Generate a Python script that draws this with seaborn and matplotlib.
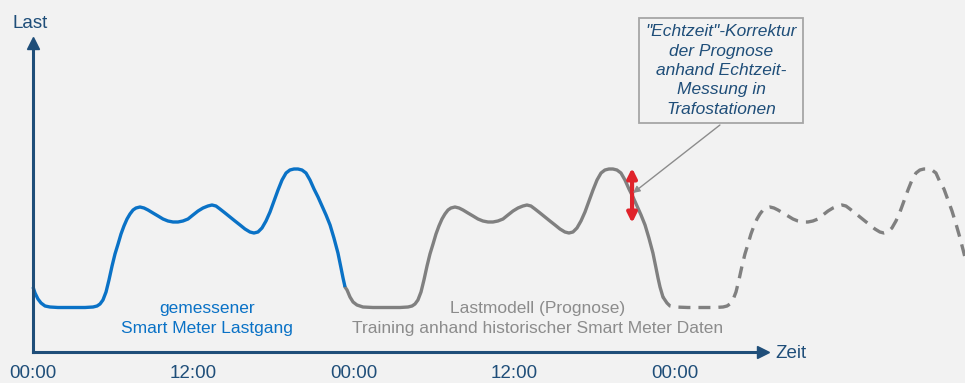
import matplotlib
matplotlib.use("Agg")
import matplotlib.pyplot as plt
import seaborn as sns
import pandas as pd

# ---- data: load profiles (hours since start, load in arbitrary units) ----
measured_hours = [0.00, 0.15, 0.37, 0.60, 0.90, 1.27, 1.87, 2.77, 3.89, 4.49,
                  4.79, 5.01, 5.23, 5.46, 5.68, 5.91, 6.13, 6.36, 6.58, 6.80,
                  7.03, 7.25, 7.48, 7.70, 8.00, 8.30, 8.60, 8.97, 9.35, 9.72,
                  10.09, 10.47, 10.84, 11.21, 11.59, 11.96, 12.34, 12.71, 13.08, 13.38,
                  13.68, 13.98, 14.36, 14.73, 15.10, 15.48, 15.85, 16.22, 16.52, 16.82,
                  17.12, 17.42, 17.72, 18.02, 18.32, 18.62, 18.92, 19.21, 19.51, 19.81,
                  20.11, 20.41, 20.71, 21.01, 21.31, 21.61, 21.91, 22.21, 22.50, 22.80,
                  23.03, 23.18, 23.33]
measured_load = [6.5, 5.9, 5.3, 4.9, 4.6, 4.5, 4.45, 4.45, 4.45, 4.5,
                 4.6, 4.8, 5.2, 6.0, 7.2, 8.6, 9.8, 10.8, 11.8, 12.6,
                 13.3, 13.8, 14.2, 14.4, 14.5, 14.4, 14.2, 13.9, 13.6, 13.3,
                 13.1, 13.0, 13.0, 13.1, 13.3, 13.7, 14.1, 14.4, 14.6, 14.7,
                 14.6, 14.3, 13.9, 13.5, 13.1, 12.7, 12.3, 12.0, 11.9, 12.0,
                 12.4, 13.1, 14.0, 15.1, 16.2, 17.2, 17.9, 18.2, 18.3, 18.3,
                 18.2, 17.9, 17.2, 16.3, 15.5, 14.6, 13.7, 12.7, 11.4, 9.9,
                 8.4, 7.4, 6.5]

model_hours = [23.33, 23.48, 23.70, 23.93, 24.22, 24.67, 25.42, 26.32, 27.44, 28.04,
               28.34, 28.56, 28.78, 29.01, 29.23, 29.46, 29.68, 29.91, 30.13, 30.35,
               30.58, 30.80, 31.03, 31.25, 31.55, 31.85, 32.15, 32.52, 32.90, 33.27,
               33.64, 34.02, 34.39, 34.76, 35.14, 35.51, 35.89, 36.26, 36.63, 36.93,
               37.23, 37.53, 37.91, 38.28, 38.65, 39.03, 39.40, 39.77, 40.07, 40.37,
               40.67, 40.97, 41.27, 41.57, 41.87, 42.17, 42.47, 42.76, 43.06, 43.36,
               43.66, 43.96, 44.26, 44.56, 44.86, 45.16, 45.46, 45.76, 46.05, 46.35,
               46.58, 46.73, 46.88, 47.10]
model_load = [6.5, 6.2, 5.5, 5.0, 4.7, 4.5, 4.45, 4.45, 4.45, 4.5,
              4.6, 4.8, 5.2, 6.0, 7.2, 8.6, 9.8, 10.8, 11.8, 12.6,
              13.3, 13.8, 14.2, 14.4, 14.5, 14.4, 14.2, 13.9, 13.6, 13.3,
              13.1, 13.0, 13.0, 13.1, 13.3, 13.7, 14.1, 14.4, 14.6, 14.7,
              14.6, 14.3, 13.9, 13.5, 13.1, 12.7, 12.3, 12.0, 11.9, 12.0,
              12.4, 13.1, 14.0, 15.1, 16.2, 17.2, 17.9, 18.2, 18.3, 18.3,
              18.2, 17.9, 17.2, 16.3, 15.5, 14.6, 13.7, 12.7, 11.4, 9.9,
              8.4, 7.4, 6.5, 5.5]

forecast_hours = [47.10, 47.40, 47.63, 48.00, 48.97, 49.87, 50.99, 51.59,
                  51.89, 52.11, 52.33, 52.56, 52.78, 53.01, 53.23, 53.46, 53.68, 53.90,
                  54.13, 54.35, 54.58, 54.80, 55.10, 55.40, 55.70, 56.07, 56.45, 56.82,
                  57.19, 57.57, 57.94, 58.31, 58.69, 59.06, 59.44, 59.81, 60.18, 60.48,
                  60.78, 61.08, 61.46, 61.83, 62.20, 62.58, 62.95, 63.32, 63.62, 63.92,
                  64.22, 64.52, 64.82, 65.12, 65.42, 65.72, 66.02, 66.31, 66.61, 66.91,
                  67.21, 67.51, 67.81, 68.11, 68.41, 68.71, 69.01, 69.31, 69.60, 69.90,
                  70.20]
forecast_load = [5.5, 4.9, 4.6, 4.5, 4.45, 4.45, 4.45, 4.5,
                 4.6, 4.8, 5.2, 6.0, 7.2, 8.6, 9.8, 10.8, 11.8, 12.6,
                 13.3, 13.8, 14.2, 14.4, 14.5, 14.4, 14.2, 13.9, 13.6, 13.3,
                 13.1, 13.0, 13.0, 13.1, 13.3, 13.7, 14.1, 14.4, 14.6, 14.7,
                 14.6, 14.3, 13.9, 13.5, 13.1, 12.7, 12.3, 12.0, 11.9, 12.0,
                 12.4, 13.1, 14.0, 15.1, 16.2, 17.2, 17.9, 18.2, 18.3, 18.3,
                 18.2, 17.9, 17.0, 16.3, 15.2, 14.1, 12.8, 11.4, 9.9, 8.3,
                 6.8]

tick_hours = [0, 12, 24, 36, 48]
tick_labels = ["00:00", "12:00", "00:00", "12:00", "00:00"]

# real-time correction at the transformer station
correction_hour = 44.79
correction_range = (12.9, 18.4)

# ---- style ----
BG = "#f2f2f2"
NAVY = "#1f4e79"
BLUE = "#0a72c6"
GREY = "#808080"
RED = "#e0232b"

sns.set_theme(style="white", rc={"figure.facecolor": BG, "axes.facecolor": BG})
plt.rcParams["font.family"] = ["Liberation Sans", "DejaVu Sans"]

fig = plt.figure(figsize=(9.65, 3.83), dpi=100)
ax = fig.add_axes([33 / 965, 31 / 383, 730 / 965, 309 / 383])
ax.set_xlim(0, 54.58)
ax.set_ylim(0, 30.9)

df_meas = pd.DataFrame({"h": measured_hours, "load": measured_load})
df_model = pd.DataFrame({"h": model_hours, "load": model_load})
df_fc = pd.DataFrame({"h": forecast_hours, "load": forecast_load})

lw = 2.4
sns.lineplot(data=df_model, x="h", y="load", ax=ax, color=GREY, lw=lw,
             sort=False, estimator=None, clip_on=False)
sns.lineplot(data=df_fc, x="h", y="load", ax=ax, color=GREY, lw=lw,
             sort=False, estimator=None, clip_on=False)
ax.lines[-1].set_dashes((3.6, 2.4))
sns.lineplot(data=df_meas, x="h", y="load", ax=ax, color=BLUE, lw=lw,
             sort=False, estimator=None, clip_on=False, solid_capstyle="butt")
for ln in ax.lines:
    ln.set_solid_joinstyle("round")

# axes with arrow heads
for side in ("top", "right"):
    ax.spines[side].set_visible(False)
for side in ("left", "bottom"):
    ax.spines[side].set_color(NAVY)
    ax.spines[side].set_linewidth(2.2)
    ax.spines[side].set_zorder(5)
ax.plot(1, 0, ">", color=NAVY, ms=8, transform=ax.transAxes, clip_on=False, zorder=6)
ax.plot(0, 1, "^", color=NAVY, ms=8, transform=ax.transAxes, clip_on=False, zorder=6)

ax.set_xticks(tick_hours)
ax.set_xticklabels(tick_labels, fontsize=13.5, color=NAVY)
ax.tick_params(axis="x", length=0, pad=9.5)
ax.set_yticks([])
ax.set_xlabel("")
ax.set_ylabel("")

ax.text(-0.22, 32.8, "Last", ha="center", va="center", fontsize=13.5, color=NAVY, clip_on=False)
ax.text(55.48, -0.1, "Zeit", ha="left", va="center", fontsize=13.5, color=NAVY, clip_on=False)

# series captions
ax.text(13.0, 3.35, "gemessener\nSmart Meter Lastgang", ha="center", va="center",
        fontsize=12.5, color=BLUE, linespacing=1.44)
ax.text(37.76, 3.35, "Lastmodell (Prognose)\nTraining anhand historischer Smart Meter Daten",
        ha="center", va="center", fontsize=12.5, color="#8c8c8c", linespacing=1.44)

# correction arrow
ax.annotate("", xy=(correction_hour, correction_range[1]),
            xytext=(correction_hour, correction_range[0]),
            arrowprops=dict(arrowstyle="<|-|>", color=RED, lw=3,
                            mutation_scale=14, shrinkA=0, shrinkB=0), zorder=7)

# callout box
ax.text(51.44, 28.15,
        "\"Echtzeit\"-Korrektur\nder Prognose\nanhand Echtzeit-\nMessung in\nTrafostationen",
        ha="center", va="center", fontsize=12.5, style="italic", color=NAVY,
        linespacing=1.36, clip_on=False,
        bbox=dict(boxstyle="square,pad=0.35", fc=BG, ec="#a6a6a6", lw=1.3))
ax.annotate("", xy=(44.86, 15.9), xytext=(51.36, 22.7),
            arrowprops=dict(arrowstyle="-|>", color="#8c8c8c", lw=1.0,
                            mutation_scale=10, shrinkA=0, shrinkB=0), zorder=8)

fig.savefig("out.png", dpi=100, facecolor=BG)
